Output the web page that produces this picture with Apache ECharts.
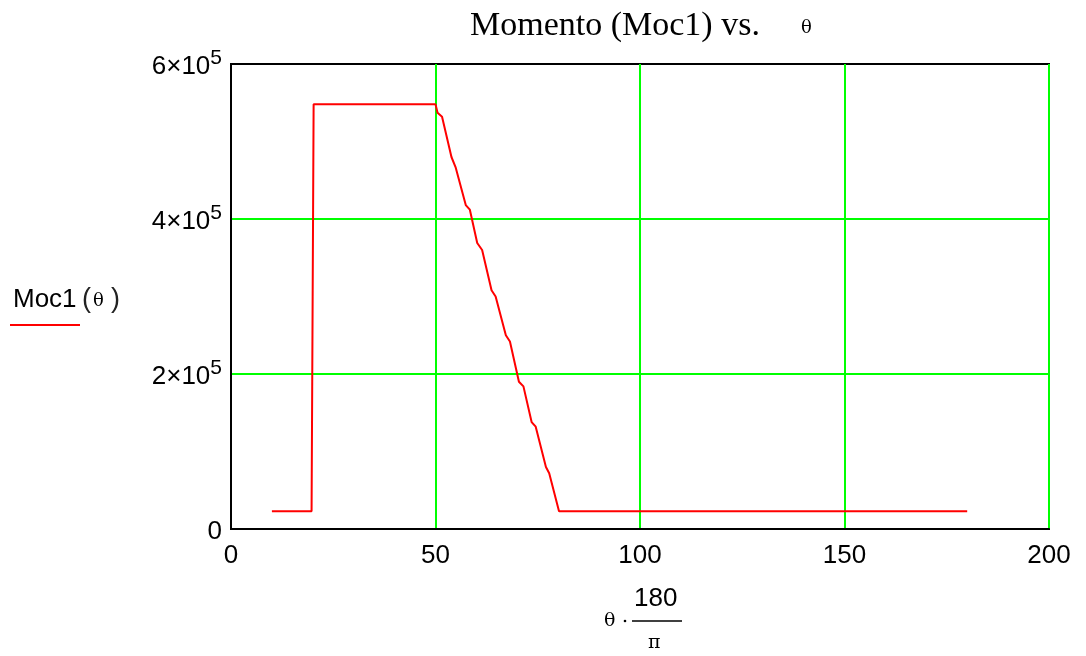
<!DOCTYPE html>
<html>
<head>
<meta charset="utf-8">
<script src="https://cdn.jsdelivr.net/npm/echarts@6/dist/echarts.min.js"></script>
<style>html,body{margin:0;padding:0;background:#fff}#c{width:1086px;height:656px}</style>
</head>
<body>
<div id="c"></div>
<script>
// Data
const thetaDeg = [10, 19.7, 20.2, 50, 50.5, 51.6, 53.9, 54.9, 57.4, 58.4, 60.2, 61.4, 63.7, 64.7, 67.2, 68.2, 70.4, 71.5, 73.5, 74.5, 77, 77.8, 80.2, 180];
const moc1 = [23000, 23000, 548000, 548000, 537000, 532000, 480000, 467000, 418000, 412000, 369000, 360000, 308000, 300000, 250000, 242000, 190000, 184000, 138000, 132000, 80000, 72000, 23000, 23000];
const xTicks = [0, 50, 100, 150, 200];
const yTickMantissa = ['0', '2', '4', '6'];
const yTickExp = '5';
const titleText = 'Momento (Moc1) vs.';
const titleSym = 'θ';
const yName = 'Moc1';

const chart = echarts.init(document.getElementById('c'), null, {renderer: 'canvas'});
const pts = thetaDeg.map((t, i) => [t, moc1[i]]);
const gL = 231, gT = 64, gR = 1086 - 1049, gB = 656 - 529;

chart.setOption({
  animation: false,
  backgroundColor: '#fff',
  grid: {left: gL, top: gT, right: gR, bottom: gB, show: true, borderColor: '#000', borderWidth: 2, backgroundColor: 'transparent'},
  xAxis: {
    type: 'value', min: xTicks[0], max: xTicks[xTicks.length - 1], interval: 50,
    axisLine: {show: true, lineStyle: {color: '#000', width: 2}},
    axisTick: {show: false},
    axisLabel: {color: '#000', fontFamily: 'Liberation Sans', fontSize: 26, margin: 14},
    splitLine: {show: true, showMinLine: false, showMaxLine: true, lineStyle: {color: '#00ff00', width: 2}}
  },
  yAxis: {
    type: 'value', min: 0, max: 600000, interval: 200000,
    axisLine: {show: true, lineStyle: {color: '#000', width: 2}},
    axisTick: {show: false},
    axisLabel: {
      color: '#000', margin: 9,
      formatter: function (v) {
        const i = Math.round(v / 200000);
        if (i === 0) return '{b|0}';
        return '{b|' + yTickMantissa[i] + '×10}{s|' + yTickExp + '}';
      },
      rich: {
        b: {fontFamily: 'Liberation Sans', fontSize: 26, color: '#000', lineHeight: 32, verticalAlign: 'bottom'},
        s: {fontFamily: 'Liberation Sans', fontSize: 21, color: '#000', lineHeight: 32, verticalAlign: 'top', padding: [0, 0, 13, 0]}
      }
    },
    splitLine: {show: true, showMinLine: false, showMaxLine: false, lineStyle: {color: '#00ff00', width: 2}}
  },
  series: [{
    type: 'line', data: pts, showSymbol: false, symbol: 'none',
    lineStyle: {color: '#ff0000', width: 2}, z: 5
  }],
  graphic: [
    {type: 'text', left: 470, top: 9, style: {text: titleText, fontFamily: 'Liberation Serif', fontSize: 34, fill: '#000'}},
    {type: 'text', left: 801, top: 19, style: {text: titleSym, fontFamily: 'DejaVu Serif', fontSize: 18, fill: '#000'}},
    {type: 'text', left: 13, top: 287, style: {text: yName, fontFamily: 'Liberation Sans', fontSize: 26, fill: '#000'}},
    {type: 'text', left: 82, top: 286, style: {text: '(', fontFamily: 'Liberation Sans', fontSize: 27, fill: '#222'}},
    {type: 'text', left: 93, top: 292, style: {text: 'θ', fontFamily: 'DejaVu Serif', fontSize: 18, fill: '#000'}},
    {type: 'text', left: 111, top: 286, style: {text: ')', fontFamily: 'Liberation Sans', fontSize: 27, fill: '#222'}},
    {type: 'line', shape: {x1: 10, y1: 325, x2: 80, y2: 325}, style: {stroke: '#ff0000', lineWidth: 2}},
    {type: 'text', left: 604, top: 612, style: {text: 'θ', fontFamily: 'DejaVu Serif', fontSize: 19, fill: '#000'}},
    {type: 'circle', shape: {cx: 625, cy: 621, r: 1.3}, style: {fill: '#000'}},
    {type: 'text', left: 634, top: 586, style: {text: '180', fontFamily: 'Liberation Sans', fontSize: 26, fill: '#000'}},
    {type: 'line', shape: {x1: 632, y1: 621, x2: 682, y2: 621}, style: {stroke: '#000', lineWidth: 1.5}},
    {type: 'text', left: 648, top: 634, style: {text: 'π', fontFamily: 'DejaVu Serif', fontSize: 19, fill: '#000'}}
  ]
});
</script>
</body>
</html>
